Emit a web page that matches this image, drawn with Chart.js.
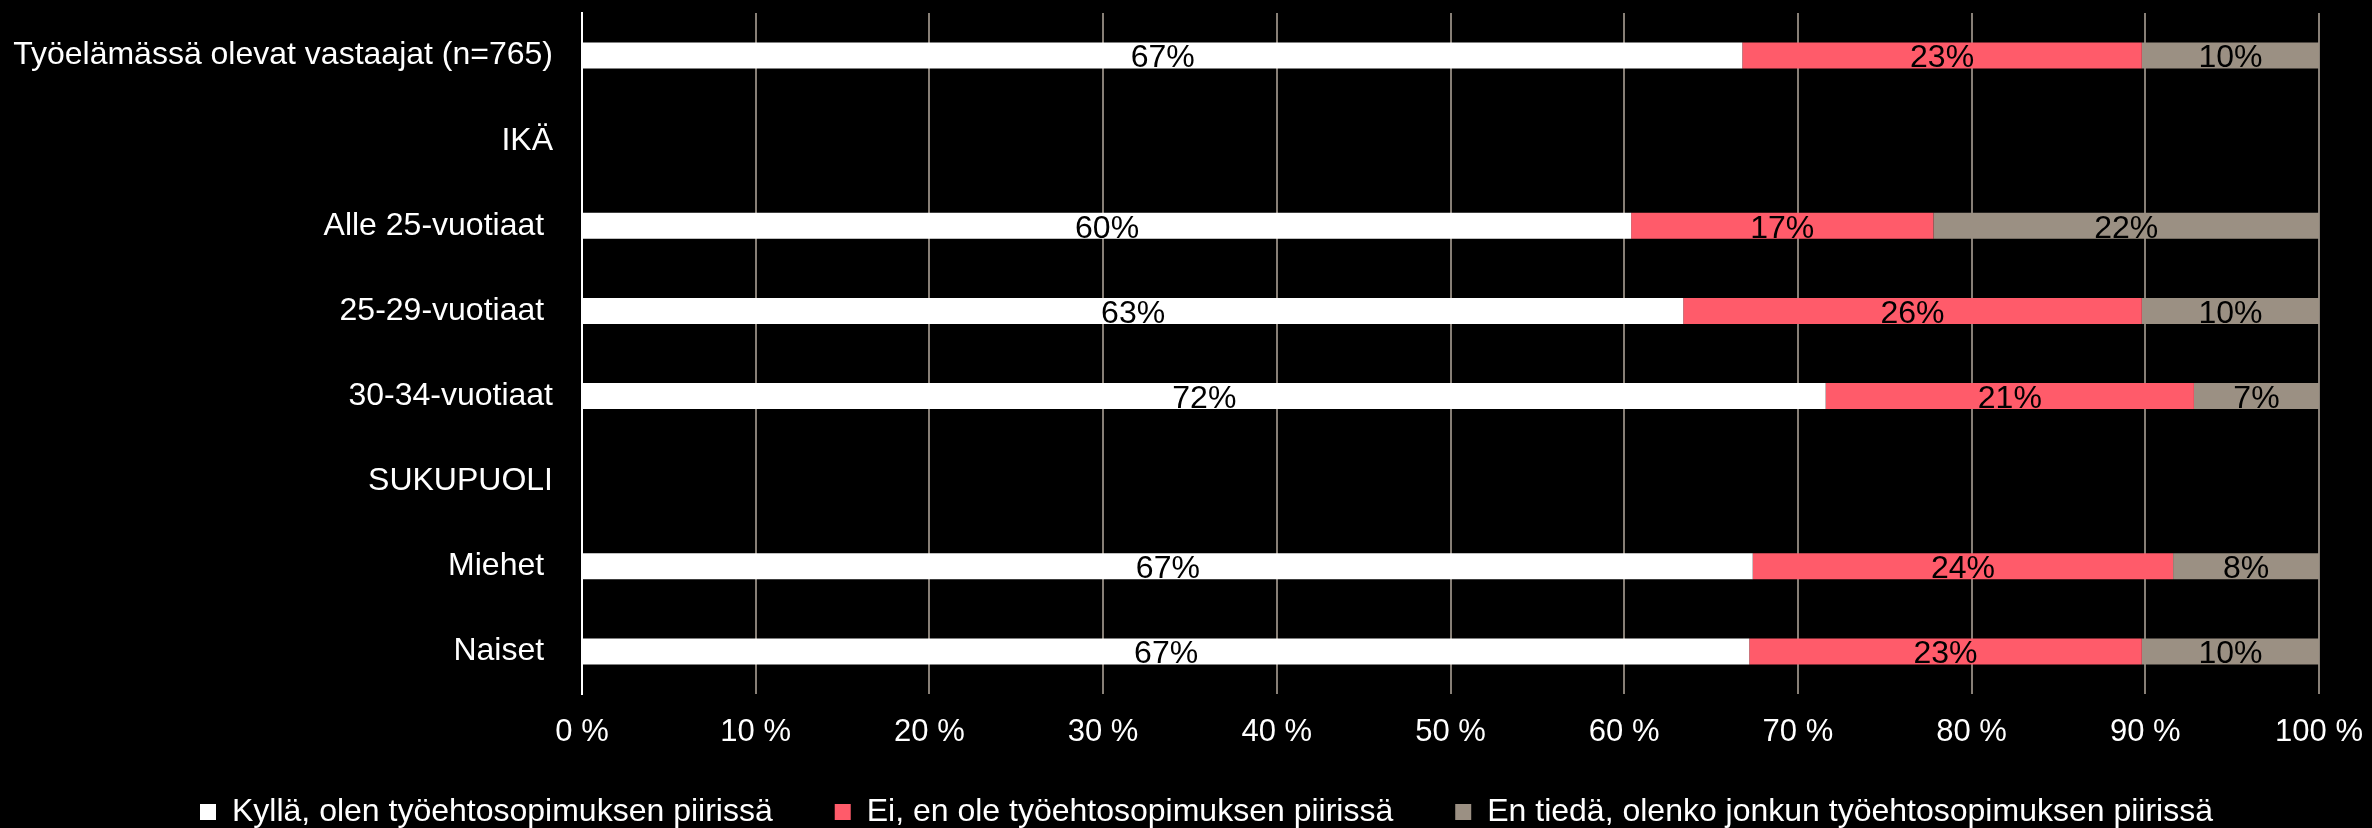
<!DOCTYPE html>
<html>
<head>
<meta charset="utf-8">
<script src="https://cdn.jsdelivr.net/npm/chart.js@4.4.0/dist/chart.umd.min.js"></script>
<style>
  html, body { margin: 0; padding: 0; background: #000; overflow: hidden; }
  #wrap { width: 2372px; height: 828px; position: relative; }
</style>
</head>
<body>
<div id="wrap"><canvas id="myChart"></canvas></div>
<script>
// Rows, top to bottom (group headings have no bars)
var categories = [
    'Työelämässä olevat vastaajat (n=765)',
    'IKÄ',
    'Alle 25-vuotiaat ',
    '25-29-vuotiaat ',
    '30-34-vuotiaat',
    'SUKUPUOLI',
    'Miehet ',
    'Naiset '
];

var seriesNames = [
    'Kyllä, olen työehtosopimuksen piirissä',
    'Ei, en ole työehtosopimuksen piirissä',
    'En tiedä, olenko jonkun työehtosopimuksen piirissä'
];

// Shares in percent
var kylla   = [66.8, null, 60.4, 63.4, 71.6, null, 67.4, 67.2];
var ei      = [23.0, null, 17.4, 26.4, 21.2, null, 24.2, 22.6];
var enTieda = [10.2, null, 22.2, 10.2,  7.2, null,  8.4, 10.2];

var xTicks = [0, 10, 20, 30, 40, 50, 60, 70, 80, 90, 100];

var colors = ['#ffffff', '#ff5b6a', '#9b9083'];
var FONT = '"Liberation Sans", Arial, sans-serif';

Chart.defaults.font.family = FONT;
Chart.defaults.color = '#ffffff';

// Percent labels centred on each segment
var barLabels = {
    id: 'barLabels',
    afterDatasetsDraw: function(chart) {
        var c = chart.ctx;
        c.save();
        c.fillStyle = '#000';
        c.font = '32px ' + FONT;
        c.textAlign = 'center';
        c.textBaseline = 'middle';
        chart.data.datasets.forEach(function(ds, i) {
            chart.getDatasetMeta(i).data.forEach(function(bar, j) {
                var v = ds.data[j];
                if (v == null) return;
                c.fillText(Math.round(v) + '%', (bar.x + bar.base) / 2, bar.y + 3);
            });
        });
        c.restore();
    }
};

// Legend sits a little closer to the tick labels than its padding allows
var legendShift = {
    id: 'legendShift',
    afterLayout: function(chart) {
        chart.legend.top -= 11;
        chart.legend.bottom -= 11;
    }
};

var ctx = document.getElementById('myChart');

var myChart = new Chart(ctx, {
    type: 'bar',
    data: {
        labels: categories,
        datasets: [
            { label: seriesNames[0], data: kylla,   backgroundColor: colors[0], borderWidth: 0 },
            { label: seriesNames[1], data: ei,      backgroundColor: colors[1], borderWidth: 0 },
            { label: seriesNames[2], data: enTieda, backgroundColor: colors[2], borderWidth: 0 }
        ]
    },
    options: {
        indexAxis: 'y',
        responsive: true,
        maintainAspectRatio: false,
        animation: false,
        datasets: {
            bar: { categoryPercentage: 1, barPercentage: 0.305 }
        },
        layout: {
            padding: { left: 0, right: -41, top: 13, bottom: -21 }
        },
        scales: {
            x: {
                stacked: true,
                min: 0,
                max: 100,
                afterBuildTicks: function(s) {
                    s.ticks = xTicks.map(function(v) { return { value: v }; });
                },
                ticks: {
                    autoSkip: false,
                    maxRotation: 0,
                    padding: 20,
                    color: '#ffffff',
                    font: { size: 31 },
                    callback: function(v) { return v + ' %'; }
                },
                grid: {
                    drawTicks: false,
                    lineWidth: 2,
                    color: function(c) {
                        return c.tick && c.tick.value === 0 ? '#ffffff' : '#877f76';
                    }
                },
                border: { display: false },
                afterFit: function(s) {
                    s.height = 51;
                    s.paddingRight = 53;
                }
            },
            y: {
                stacked: true,
                ticks: {
                    autoSkip: false,
                    padding: 29,
                    color: '#ffffff',
                    font: { size: 32 }
                },
                grid: { display: false, drawTicks: false },
                border: { display: true, color: '#ffffff', width: 2 },
                afterFit: function(s) {
                    s.width = 582;
                    s.paddingTop = 0;
                    s.paddingBottom = 0;
                }
            }
        },
        plugins: {
            legend: {
                position: 'bottom',
                labels: {
                    color: '#ffffff',
                    font: { size: 32 },
                    boxWidth: 16,
                    boxHeight: 16,
                    padding: 62
                }
            },
            tooltip: { enabled: false }
        }
    },
    plugins: [barLabels, legendShift]
});
</script>
</body>
</html>
